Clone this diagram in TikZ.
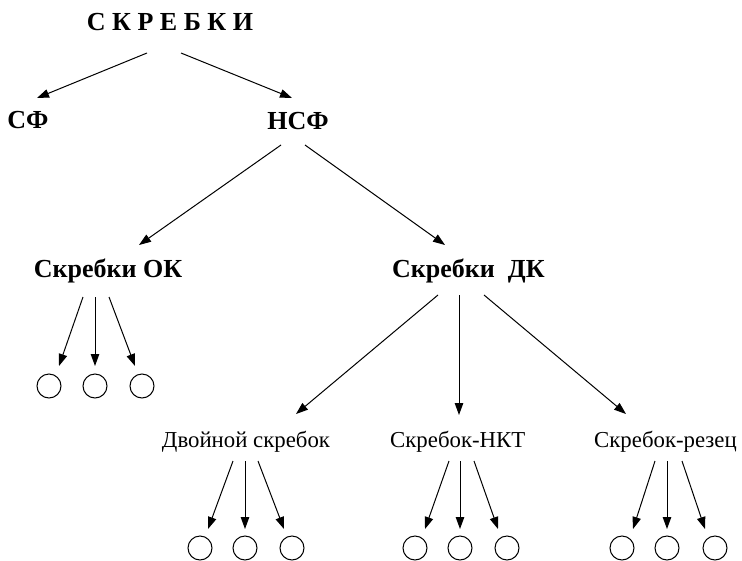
\documentclass[tikz,border=0pt]{standalone}
\usepackage{fontspec}
\setmainfont{Liberation Serif}
\usetikzlibrary{arrows.meta}
\tikzset{
  head/.style={font=\fontsize{26}{26}\selectfont\bfseries, anchor=base, inner sep=0pt},
  sub/.style={font=\fontsize{22.8}{22.8}\selectfont, anchor=base, inner sep=0pt},
  leaf/.style={circle, draw, line width=1pt, minimum size=24pt, inner sep=0pt},
  arr/.style={line width=1pt, -{Triangle[length=12pt,width=8.5pt]}}
}
\begin{document}
\begin{tikzpicture}[x=1pt,y=-1pt]
\useasboundingbox (0,0) rectangle (742,560);
% texts
\node[head] (top) at (170,30) {С К Р Е Б К И};
\node[head] (sf) at (28,128) {СФ};
\node[head] (nsf) at (298,129) {НСФ};
\node[head] (ok) at (108,277) {Скребки ОК};
\node[head, anchor=base west] (dk) at (392,277) {Скребки\ \ ДК};
\node[sub] (dv) at (246,447) {Двойной скребок};
\node[sub, anchor=base west] (nkt) at (390,447) {Скребок-НКТ};
\node[sub, anchor=base west] (rez) at (594,447) {Скребок-резец};
% coordinates of connector ends
\coordinate (t1) at (147,53); \coordinate (t2) at (181,53);
\coordinate (sfE) at (37,98); \coordinate (nsfE) at (292,98);
\coordinate (n1) at (281,145); \coordinate (n2) at (305,145);
\coordinate (okE) at (139,245); \coordinate (dkE) at (445,245);
\coordinate (d1) at (438,295); \coordinate (d2) at (459,295); \coordinate (d3) at (484,295);
\coordinate (dvE) at (296,414); \coordinate (nktE) at (459,415); \coordinate (rezE) at (626,414);
% circles
\foreach \n/\x/\y in {o1/49/386, o2/95/386, o3/142/386,
  a1/200/548, a2/245/548, a3/292/548,
  b1/415/548, b2/460/548, b3/507/548,
  c1/622/548, c2/667/548, c3/715/548}
  \node[leaf] (\n) at (\x,\y) {};
% leaf arrow coordinates
\foreach \n/\sx/\sy/\ex/\ey in {
  ok1/83/297/59/366, ok2/95/297/95/366, ok3/109/297/135/366,
  dv1/233/461/208/529, dv2/245/461/245/529, dv3/258/461/284/529,
  nk1/449/461/425/529, nk2/460/461/460/529, nk3/474/461/498/529,
  rz1/655/461/633/529, rz2/667/461/667/529, rz3/682/461/705/529}
{ \coordinate (\n s) at (\sx,\sy); \coordinate (\n e) at (\ex,\ey); }
% connectors
\draw[arr] (t1) -- (sfE);
\draw[arr] (t2) -- (nsfE);
\draw[arr] (n1) -- (okE);
\draw[arr] (n2) -- (dkE);
\draw[arr] (d1) -- (dvE);
\draw[arr] (d2) -- (nktE);
\draw[arr] (d3) -- (rezE);
\foreach \n in {ok1,ok2,ok3,dv1,dv2,dv3,nk1,nk2,nk3,rz1,rz2,rz3}
  \draw[arr] (\n s) -- (\n e);
\end{tikzpicture}
\end{document}
